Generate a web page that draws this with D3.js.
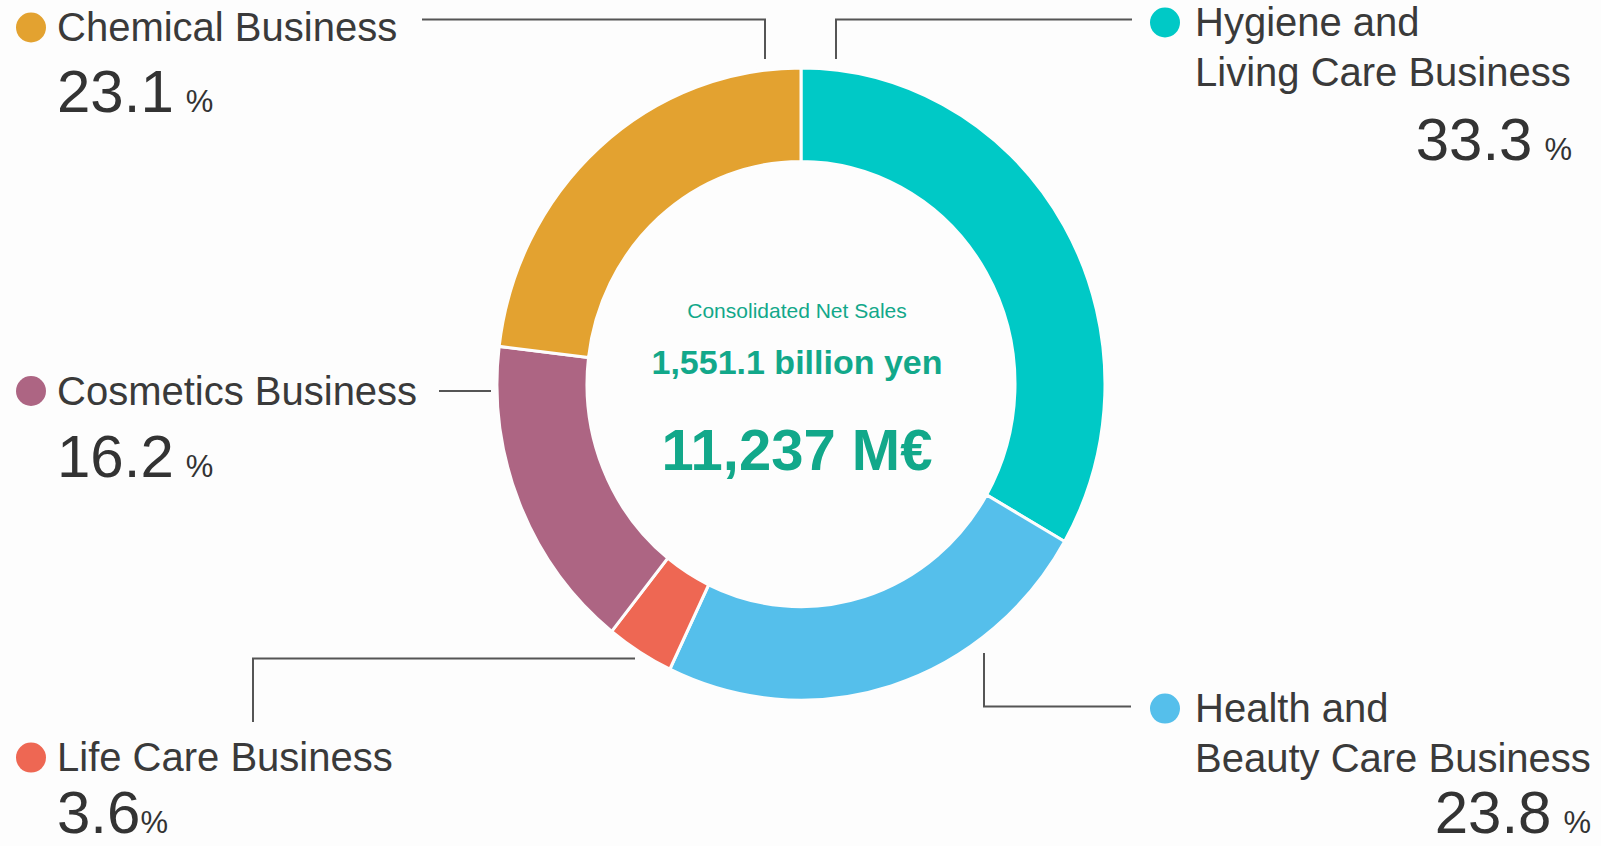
<!DOCTYPE html>
<html>
<head>
<meta charset="utf-8">
<script src="https://cdn.jsdelivr.net/npm/d3@7"></script>
<style>
  html, body { margin: 0; padding: 0; background: #fdfdfd; }
  svg { display: block; }
  svg text { font-family: Arial, "Liberation Sans", Helvetica, sans-serif; }
</style>
</head>
<body>
<svg id="chart" width="1601" height="846"></svg>
<script>
// ---- data ----
const categories = ["Hygiene and Living Care Business", "Health and Beauty Care Business", "Life Care Business", "Cosmetics Business", "Chemical Business"];
const shares = [33.3, 23.8, 3.6, 16.2, 23.1];
const colors = ["#00c9c6", "#55bfeb", "#ee6753", "#ad6583", "#e3a230"];
const nameLines = [["Hygiene and", "Living Care Business"], ["Health and", "Beauty Care Business"], ["Life Care Business"], ["Cosmetics Business"], ["Chemical Business"]];
const pctLabels = ["33.3", "23.8", "3.6", "16.2", "23.1"];
const pctSpace = [true, true, false, true, true];
const centerTitle = "Consolidated Net Sales";
const centerYen = "1,551.1 billion yen";
const centerEur = "11,237 M€";

// ---- layout (positions only) ----
const W = 1601, H = 846;
const cx = 801, cy = 384, rOut = 304, rIn = 214, yStretch = 1.04;
const labelLayout = [
  { dot: [1165, 22.5], x: 1195, lines: [36, 86], pctX: 1572, pctY: 160, anchor: "end", leader: "M1132,19.4H836V59" },
  { dot: [1165, 708.6], x: 1195, lines: [722, 772], pctX: 1591, pctY: 833, anchor: "end", leader: "M984,653V706.5H1131" },
  { dot: [31, 757.6], x: 57, lines: [771], pctX: 57, pctY: 833, anchor: "start", leader: "M253,722V658.5H635" },
  { dot: [31, 391], x: 57, lines: [405], pctX: 57, pctY: 477, anchor: "start", leader: "M439,391H491" },
  { dot: [31, 27.5], x: 57, lines: [41], pctX: 57, pctY: 112, anchor: "start", leader: "M422,19.4H765V59" }
];

const svg = d3.select("#chart");
svg.append("rect").attr("width", W).attr("height", H).attr("fill", "#fdfdfd");

const pie = d3.pie().sort(null).value(d => d.v).startAngle(0).endAngle(2 * Math.PI);
const arc = d3.arc().innerRadius(rIn).outerRadius(rOut);
const data = categories.map((c, i) => ({ name: c, v: shares[i], color: colors[i] }));

const ring = svg.append("g").attr("transform", `translate(${cx},${cy}) scale(1,${yStretch})`);
ring.selectAll("path.slice")
  .data(pie(data))
  .join("path")
  .attr("class", "slice")
  .attr("d", arc)
  .attr("fill", d => d.data.color)
  .attr("stroke", "#fdfdfd")
  .attr("stroke-width", 3);

// leaders
svg.append("g").selectAll("path")
  .data(labelLayout)
  .join("path")
  .attr("d", d => d.leader)
  .attr("fill", "none")
  .attr("stroke", "#555")
  .attr("stroke-width", 2);

// labels
const lab = svg.append("g").selectAll("g")
  .data(data.map((d, i) => ({ ...d, L: labelLayout[i], lines: nameLines[i], pct: pctLabels[i], sp: pctSpace[i] })))
  .join("g");

lab.append("circle")
  .attr("cx", d => d.L.dot[0]).attr("cy", d => d.L.dot[1]).attr("r", 15)
  .attr("fill", d => d.color);

lab.each(function(d) {
  const g = d3.select(this);
  d.lines.forEach((t, j) => {
    g.append("text").attr("x", d.L.x).attr("y", d.L.lines[j])
      .attr("font-size", 40).attr("fill", "#3a3a3a").text(t);
  });
  const t = g.append("text").attr("x", d.L.pctX).attr("y", d.L.pctY)
    .attr("text-anchor", d.L.anchor).attr("fill", "#333");
  t.append("tspan").attr("font-size", 60).text(d.pct);
  t.append("tspan").attr("font-size", 31).attr("dx", d.sp ? 12 : 0).text("%");
});

// center text
const ctr = svg.append("g").attr("fill", "#12a88a").attr("text-anchor", "middle");
ctr.append("text").attr("x", 797).attr("y", 318).attr("font-size", 21).text(centerTitle);
ctr.append("text").attr("x", 797).attr("y", 374).attr("font-size", 34).attr("font-weight", "bold").text(centerYen);
ctr.append("text").attr("x", 797).attr("y", 470).attr("font-size", 58).attr("font-weight", "bold").text(centerEur);
</script>
</body>
</html>
